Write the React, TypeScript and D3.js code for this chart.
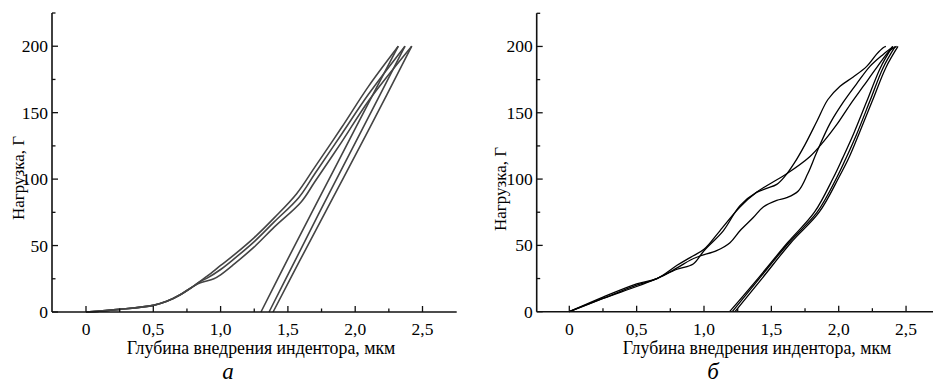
import React from "react";
import * as d3 from "d3";

type Pt = [number, number];

// ---------- data (panel а) ----------
const leftLoading: Pt[][] = [
  [[0,0],[0.25,2],[0.5,5],[0.6,8],[0.7,13],[0.8,19.5],[0.9,27],[1.0,35],[1.1,43],[1.25,56],[1.4,71],[1.565,89],[1.7,109],[1.9,139],[2.1,170],[2.32,200]],
  [[0,0],[0.25,2],[0.5,5],[0.6,8],[0.7,13],[0.8,19.5],[0.85,23],[0.9,25.5],[1.0,32],[1.1,40],[1.25,53],[1.4,68],[1.58,86],[1.7,104],[1.9,134],[2.1,164],[2.37,200]],
  [[0,0],[0.25,2],[0.5,5],[0.6,8],[0.7,13],[0.8,19.5],[0.85,22],[0.95,25],[1.0,28],[1.1,36],[1.25,49],[1.4,64],[1.6,83],[1.7,98],[1.9,128],[2.1,159],[2.42,200]],
];
const leftUnloading: Pt[][] = [
  [[2.32,200],[2.0,138],[1.75,89],[1.5,40],[1.3,0]],
  [[2.37,200],[2.05,137],[1.8,88],[1.56,40],[1.36,0]],
  [[2.42,200],[2.1,137],[1.84,87],[1.59,39],[1.39,0]],
];

// ---------- data (panel б) ----------
const rightLoading: Pt[][] = [
  [[0,0],[0.25,10],[0.5,19],[0.65,25],[0.8,32],[0.92,36],[1.0,46],[1.143,61],[1.267,80],[1.39,90],[1.465,93],[1.54,96],[1.6,102],[1.67,112],[1.75,126],[1.84,144],[1.92,160],[2.01,170],[2.108,177],[2.208,185],[2.28,194],[2.33,199],[2.35,200]],
  [[0,0],[0.25,11],[0.5,21],[0.65,25],[0.8,35],[0.9,41],[1.0,47],[1.118,61],[1.267,79],[1.39,90],[1.465,95],[1.614,104],[1.787,117],[1.886,128],[1.985,141],[2.084,156],[2.183,170],[2.282,184],[2.38,197],[2.43,200]],
  [[0,0],[0.25,10],[0.5,20],[0.65,25],[0.8,33],[0.9,39],[0.97,42],[1.094,46],[1.193,52],[1.267,61],[1.366,71],[1.44,79],[1.54,84],[1.614,86],[1.7,91],[1.77,104],[1.84,121],[1.936,142],[2.034,158],[2.134,172],[2.232,185],[2.33,194],[2.405,200]],
];
const rightUnloading: Pt[][] = [
  [[2.40,200],[2.31,184],[2.21,159],[2.11,134],[2.03,116],[1.96,101],[1.82,75],[1.62,52],[1.4,25],[1.19,0]],
  [[2.42,200],[2.33,184],[2.232,159],[2.134,134],[2.06,117],[1.985,101],[1.84,75],[1.63,52],[1.41,25],[1.21,0]],
  [[2.44,200],[2.35,184],[2.25,159],[2.15,134],[2.08,117],[2.0,101],[1.855,75],[1.645,52],[1.43,25],[1.23,0]],
];

const xMajor = [0, 0.5, 1.0, 1.5, 2.0, 2.5];
const xMinor = [0.25, 0.75, 1.25, 1.75, 2.25];
const xLabels = ["0", "0,5", "1,0", "1,5", "2,0", "2,5"];
const yMajor = [0, 50, 100, 150, 200];
const yMinor = [25, 75, 125, 175, 225];
const xTitle = "Глубина внедрения индентора, мкм";
const yTitle = "Нагрузка, Г";

const FONT = "Liberation Serif";

interface PanelProps {
  x0: number; x1: number; y0: number; y1: number;
  zeroX: number; unitX: number;
  loading: Pt[][]; unloading: Pt[][];
  lineColor: string; lineWidth: number;
  yTitleX: number; yTitleY: number;
  xTitleX: number; letter: string; letterX: number;
}

function Panel(p: PanelProps) {
  const x = d3.scaleLinear().domain([-0.25, 2.75]).range([p.zeroX - 0.25 * p.unitX, p.zeroX + 2.75 * p.unitX]);
  const y = d3.scaleLinear().domain([0, 225]).range([p.y1, p.y0]);
  const line = d3.line<Pt>().x(d => x(d[0])).y(d => y(d[1])).curve(d3.curveCatmullRom.alpha(0.5));
  const axisLeft = p.x0;
  const ts: React.CSSProperties = { fontFamily: FONT };
  return (
    <g>
      {[...p.loading, ...p.unloading].map((s, i) => (
        <path key={i} d={line(s) || ""} fill="none" stroke={p.lineColor} strokeWidth={p.lineWidth} />
      ))}
      <line x1={axisLeft} x2={axisLeft} y1={y(225)} y2={y(0)} stroke="#111" strokeWidth={1.6} />
      <line x1={axisLeft} x2={p.x1} y1={y(0)} y2={y(0)} stroke="#111" strokeWidth={1.6} />
      {xMajor.map(v => (
        <line key={"xM" + v} x1={x(v)} x2={x(v)} y1={y(0)} y2={y(0) - 6} stroke="#111" strokeWidth={1.3} />
      ))}
      {xMinor.map(v => (
        <line key={"xm" + v} x1={x(v)} x2={x(v)} y1={y(0)} y2={y(0) - 3.5} stroke="#111" strokeWidth={1.3} />
      ))}
      {yMajor.map(v => (
        <line key={"yM" + v} x1={axisLeft} x2={axisLeft + 6} y1={y(v)} y2={y(v)} stroke="#111" strokeWidth={1.3} />
      ))}
      {yMinor.map(v => (
        <line key={"ym" + v} x1={axisLeft} x2={axisLeft + 3.5} y1={y(v)} y2={y(v)} stroke="#111" strokeWidth={1.3} />
      ))}
      {xMajor.map((v, i) => (
        <text key={"xl" + v} x={x(v)} y={y(0) + 23} textAnchor="middle" style={ts} fontSize={17.5} fill="#000">{xLabels[i]}</text>
      ))}
      {yMajor.map(v => (
        <text key={"yl" + v} x={axisLeft - 4} y={y(v) + 6} textAnchor="end" style={ts} fontSize={17.5} fill="#000">{v}</text>
      ))}
      <text x={p.xTitleX} y={y(0) + 42} textAnchor="middle" style={ts} fontSize={17.8} fill="#000">{xTitle}</text>
      <text transform={`translate(${p.yTitleX},${p.yTitleY}) rotate(-90)`} textAnchor="middle" style={ts} fontSize={17} fill="#000">{yTitle}</text>
      <text x={p.letterX} y={379} textAnchor="middle" style={{ ...ts, fontStyle: "italic" }} fontSize={23} fill="#000">{p.letter}</text>
    </g>
  );
}

export default function App() {
  return (
    <svg width={933} height={385} style={{ position: "absolute", left: 0, top: 0, background: "#fff" }}>
      <rect width={933} height={385} fill="#fff" />
      <Panel x0={52} x1={456.7} y0={13} y1={312} zeroX={86} unitX={134.6}
        loading={leftLoading} unloading={leftUnloading} lineColor="#444" lineWidth={1.6}
        yTitleX={24} yTitleY={178} xTitleX={261} letter="а" letterX={228} />
      <Panel x0={536.7} x1={933} y0={13.3} y1={311.7} zeroX={569.3} unitX={134.7}
        loading={rightLoading} unloading={rightUnloading} lineColor="#000" lineWidth={1.3}
        yTitleX={506} yTitleY={189} xTitleX={757} letter="б" letterX={713} />
    </svg>
  );
}
